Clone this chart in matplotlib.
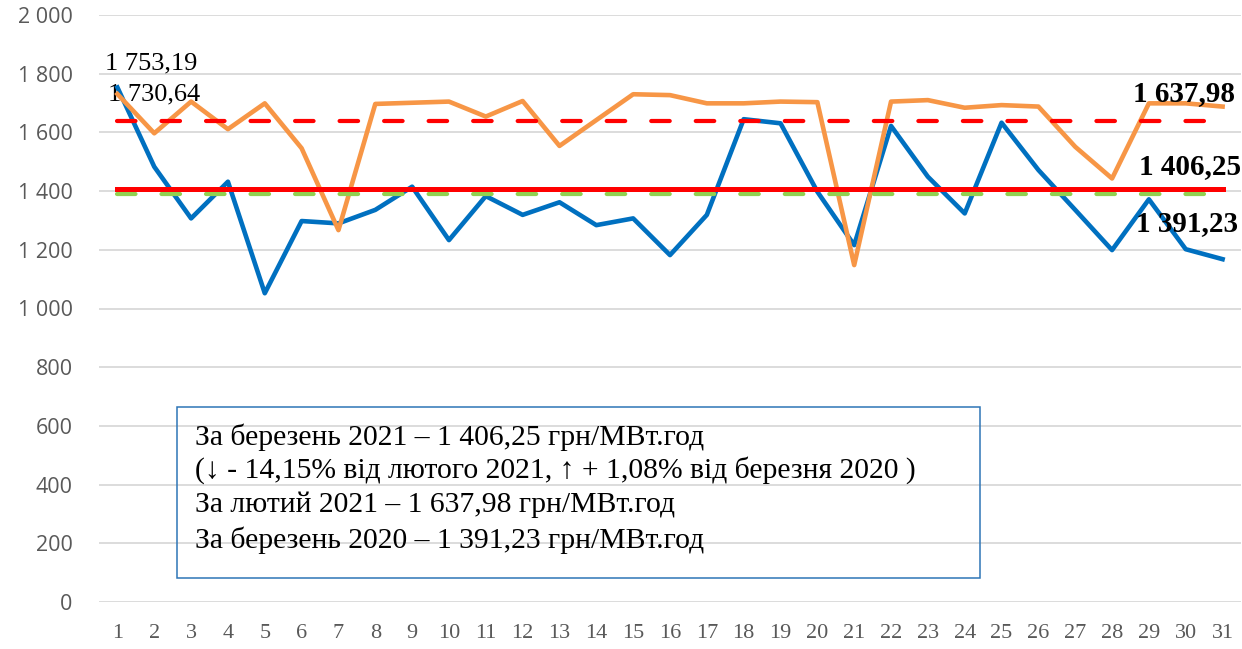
import matplotlib.pyplot as plt
from matplotlib.patches import Rectangle

DAYS = list(range(1, 32))
MARCH_2021 = [1753.19, 1483, 1307, 1432, 1052, 1298, 1290, 1336, 1415, 1233,
              1383, 1319, 1362, 1284, 1307, 1182, 1319, 1645, 1631, 1398,
              1216, 1622, 1449, 1324, 1633, 1472, 1336, 1199, 1372, 1202, 1168]
FEB_2021 = [1730.64, 1597, 1705, 1611, 1699, 1546, 1267, 1697, 1701, 1705,
            1654, 1707, 1554, 1642, 1730, 1727, 1699, 1699, 1705, 1703,
            1148, 1705, 1710, 1684, 1693, 1688, 1551, 1443, 1699, 1699, 1688]
AVG_FEB_2021 = 1637.98
AVG_MAR_2021 = 1406.25
AVG_MAR_2020 = 1391.23
Y_TICKS = list(range(0, 2001, 200))
INFO_LINES = [
    "За березень 2021 – 1 406,25 грн/МВт.год",
    "(↓ - 14,15% від лютого 2021, ↑ + 1,08% від березня 2020 )",
    "За лютий 2021 – 1 637,98 грн/МВт.год",
    "За березень 2020 – 1 391,23 грн/МВт.год",
]

SERIF = ["Liberation Serif", "DejaVu Serif"]
W, H = 1242, 649


def fmt(v):
    return f"{v:,.2f}".replace(",", " ").replace(".", ",")


fig = plt.figure(figsize=(W / 100, H / 100), dpi=100)
ax = fig.add_axes([99 / W, (H - 602) / H, (W - 100) / W, 587 / H])

px = 72 / 100  # one pixel in points
ax.plot(DAYS, MARCH_2021, color="#0070C0", lw=4.6 * px, zorder=3, solid_joinstyle="round")
ax.plot(DAYS, FEB_2021, color="#F79646", lw=4.6 * px, zorder=4, solid_joinstyle="round")

first, last = DAYS[0], DAYS[-1]
ax.plot([first, last], [AVG_MAR_2020] * 2, color="#92D050", lw=4.2 * px, dashes=(4.4, 6.2),
        dash_capstyle="round", zorder=5)
ax.plot([first, last], [AVG_FEB_2021] * 2, color="#FF0000", lw=4.2 * px, dashes=(4.4, 6.2),
        dash_capstyle="round", zorder=6)
ax.plot([first, last], [AVG_MAR_2021] * 2, color="#FF0000", lw=5 * px, zorder=7)

# data labels
ax.annotate(fmt(MARCH_2021[0]), (first, MARCH_2021[0]), xytext=(-12, 24),
            textcoords="offset pixels", ha="left", va="center", fontsize=19,
            family=SERIF, zorder=2)
ax.annotate(fmt(FEB_2021[0]), (first, FEB_2021[0]), xytext=(-9, 0),
            textcoords="offset pixels", ha="left", va="center", fontsize=19,
            family=SERIF, zorder=2)
ax.annotate(fmt(AVG_FEB_2021), (last, AVG_FEB_2021), xytext=(12, 28),
            textcoords="offset pixels", ha="right", va="center", fontsize=21,
            fontweight="bold", family=SERIF, zorder=8, annotation_clip=False)
ax.annotate(fmt(AVG_MAR_2021), (last, AVG_MAR_2021), xytext=(19, 23),
            textcoords="offset pixels", ha="right", va="center", fontsize=21,
            fontweight="bold", family=SERIF, zorder=8, annotation_clip=False)
ax.annotate(fmt(AVG_MAR_2020), (last, AVG_MAR_2020), xytext=(15, -30),
            textcoords="offset pixels", ha="right", va="center", fontsize=21,
            fontweight="bold", family=SERIF, zorder=8, annotation_clip=False)

ax.set_xlim(0.5, 31.5)
ax.set_ylim(0, 2000)
ax.set_xticks(DAYS)
ax.set_xticklabels([str(d) for d in DAYS], family=SERIF, fontsize=16, color="#595959")
ax.set_yticks(Y_TICKS)
ax.set_yticklabels([f"{v:,}".replace(",", " ") for v in Y_TICKS], family="Open Sans",
                   fontsize=15.5, color="#595959")
ax.tick_params(axis="x", length=0, pad=16)
ax.tick_params(axis="y", length=0, pad=19)
ax.grid(axis="y", color="#D9D9D9", lw=1.3, zorder=0)
for s in ax.spines.values():
    s.set_visible(False)

# info box
fig.add_artist(Rectangle((177 / W, (H - 578) / H), (980 - 177) / W, (578 - 407) / H,
                         transform=fig.transFigure, fill=False, edgecolor="#2E75B6",
                         lw=1.1, zorder=10))
for line, base in zip(INFO_LINES, [445, 478, 512, 548]):
    fig.text(195 / W, (H - base) / H, line, family=SERIF, fontsize=21.3,
             va="baseline", ha="left", zorder=11)

fig.savefig("out.png", dpi=100)
